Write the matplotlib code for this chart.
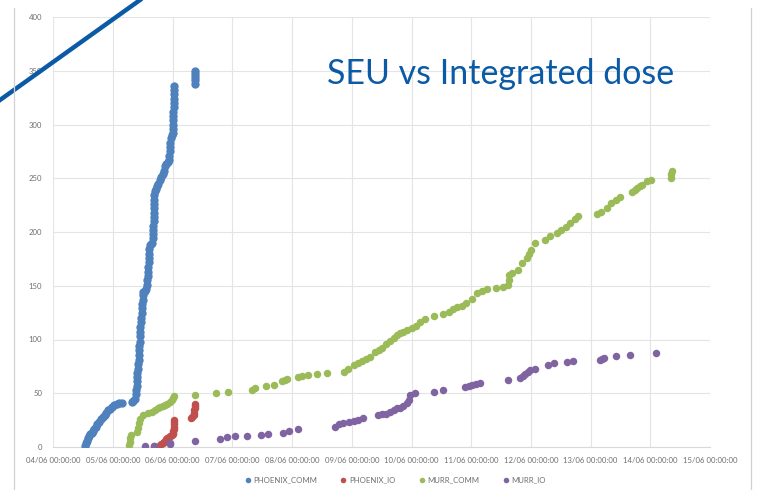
import matplotlib.pyplot as plt
from matplotlib.lines import Line2D

# time in days since 04/06 00:00:00, cumulative SEU count
phoenix_comm_day = [0.53, 0.54, 0.56, 0.58, 0.60, 0.62, 0.64, 0.66, 0.69, 0.72, 0.74, 0.77, 0.80, 0.83,
                    0.86, 0.89, 0.92, 0.95, 0.98, 1.02, 1.06, 1.10, 1.15,
                    1.31, 1.34, 1.37, 1.38, 1.39, 1.40, 1.40, 1.41, 1.41, 1.42, 1.42, 1.43, 1.43, 1.44,
                    1.44, 1.45, 1.45, 1.46, 1.46, 1.47, 1.47, 1.48, 1.48, 1.49, 1.50, 1.50, 1.51, 1.54,
                    1.56, 1.57, 1.57, 1.58, 1.58, 1.59, 1.60, 1.60, 1.61, 1.61, 1.62, 1.64, 1.66, 1.67,
                    1.67, 1.67, 1.67, 1.68, 1.68, 1.68, 1.68, 1.68, 1.69, 1.69, 1.70, 1.72, 1.74, 1.76,
                    1.79, 1.81, 1.83, 1.85, 1.87, 1.89, 1.92, 1.94, 1.94, 1.95, 1.95, 1.96, 1.97, 1.99,
                    2.01, 2.01, 2.01, 2.01, 2.01, 2.01, 2.02, 2.02, 2.02, 2.02, 2.02, 2.02,
                    2.37, 2.37, 2.37, 2.37, 2.37]
phoenix_comm_count = [1, 4, 6, 8, 10, 12, 13, 15, 17, 19, 21, 23, 26, 28,
                      30, 32, 34, 35, 37, 39, 40, 41, 41,
                      42, 43, 45, 49, 53, 57, 61, 65, 69, 73, 77, 81, 86, 90,
                      94, 98, 103, 107, 112, 116, 120, 125, 129, 133, 137, 141, 144, 145,
                      147, 151, 155, 159, 163, 167, 172, 176, 180, 184, 188, 189, 190, 194,
                      198, 202, 206, 210, 214, 218, 222, 226, 230, 234, 238, 240, 243, 245,
                      248, 251, 254, 257, 261, 263, 265, 267, 271, 275, 279, 283, 287, 290,
                      292, 296, 300, 304, 308, 312, 316, 320, 324, 328, 332, 336,
                      338, 341, 344, 347, 350]

phoenix_io_day = [1.68, 1.79, 1.81, 1.83, 1.85, 1.87, 1.89, 1.91, 1.93, 1.95, 1.98, 2.00, 2.01, 2.01,
                  2.02, 2.02, 2.02, 2.02, 2.02, 2.30, 2.32, 2.35, 2.36, 2.36, 2.37, 2.37, 2.37]
phoenix_io_count = [1, 2, 3, 4, 5, 6, 7, 8, 9, 10, 11, 12, 13, 15,
                    17, 19, 21, 23, 25, 27, 28, 30, 32, 34, 36, 38, 40]

murr_comm_day = [1.27, 1.28, 1.29, 1.30, 1.41, 1.42, 1.43, 1.45, 1.50, 1.59, 1.66, 1.70, 1.75, 1.79,
                 1.84, 1.87, 1.91, 1.95, 1.98, 2.00, 2.02, 2.37, 2.72, 2.93, 3.32, 3.38, 3.57, 3.70,
                 3.83, 3.88, 3.92, 4.10, 4.16, 4.27, 4.42, 4.59,
                 4.87, 4.94, 5.03, 5.10, 5.17, 5.24, 5.30, 5.39, 5.45, 5.50, 5.58, 5.64, 5.70,
                 5.75, 5.80, 5.86, 5.93, 6.00, 6.07, 6.14, 6.23, 6.37, 6.53, 6.62, 6.70, 6.77,
                 6.84, 6.92, 7.01, 7.09, 7.18, 7.26, 7.42, 7.54, 7.62, 7.63, 7.64, 7.68, 7.79,
                 7.85, 7.93, 7.97, 8.01, 8.07, 8.24, 8.32, 8.43, 8.50, 8.58, 8.66, 8.74, 8.79,
                 9.11, 9.18, 9.27, 9.35, 9.42, 9.49, 9.69, 9.74, 9.77, 9.82, 9.86, 9.94, 10.02,
                 10.34, 10.35, 10.36]
murr_comm_count = [2, 5, 8, 11, 14, 18, 22, 26, 30, 32, 33, 34, 36, 37,
                   38, 39, 40, 42, 44, 46, 47, 48, 50, 51, 53, 55, 57, 58,
                   61, 62, 63, 65, 66, 67, 68, 69,
                   70, 73, 76, 78, 80, 82, 84, 88, 90, 92, 96, 99, 101,
                   104, 106, 107, 109, 111, 113, 116, 119, 122, 124, 126, 128, 130,
                   131, 134, 138, 143, 145, 147, 148, 149, 151, 155, 160, 162, 165,
                   171, 176, 180, 183, 190, 193, 196, 199, 202, 205, 208, 212, 215,
                   217, 219, 222, 227, 230, 233, 237, 239, 241, 243, 244, 247, 248,
                   250, 254, 257]

murr_io_day = [1.54, 1.68, 1.95, 1.96, 2.37, 2.79, 2.91, 3.04, 3.24, 3.48, 3.59, 3.84, 3.95, 4.10,
               4.72, 4.79, 4.86, 4.95, 5.03, 5.10, 5.18, 5.44, 5.51, 5.58, 5.64, 5.70, 5.75, 5.81,
               5.86, 5.92, 5.95, 5.97, 6.06, 6.37, 6.53, 6.90, 6.96, 7.01, 7.08, 7.14, 7.62,
               7.82, 7.86, 7.90, 7.95, 7.99, 8.07, 8.29, 8.38, 8.60, 8.71,
               9.16, 9.19, 9.22, 9.43, 9.66, 10.10]
murr_io_count = [1, 1, 3, 4, 6, 7, 9, 10, 10, 11, 12, 13, 15, 17,
                 19, 21, 22, 23, 24, 25, 27, 30, 31, 31, 33, 34, 36, 36,
                 38, 41, 44, 48, 50, 51, 53, 56, 57, 58, 59, 60, 62,
                 64, 66, 68, 70, 72, 73, 76, 78, 79, 80,
                 81, 82, 83, 85, 86, 87]

tick_labels = ["04/06 00:00:00", "05/06 00:00:00", "06/06 00:00:00", "07/06 00:00:00",
               "08/06 00:00:00", "09/06 00:00:00", "10/06 00:00:00", "11/06 00:00:00",
               "12/06 00:00:00", "13/06 00:00:00", "14/06 00:00:00", "15/06 00:00:00"]

series = [("PHOENIX_COMM", phoenix_comm_day, phoenix_comm_count, "#4F81BD"),
          ("PHOENIX_IO", phoenix_io_day, phoenix_io_count, "#C0504D"),
          ("MURR_COMM", murr_comm_day, murr_comm_count, "#9BBB59"),
          ("MURR_IO", murr_io_day, murr_io_count, "#8064A2")]

plt.rcParams['font.family'] = ['Lato', 'DejaVu Sans']

W, H = 760, 490
fig = plt.figure(figsize=(7.6, 4.9), dpi=100)
ax = fig.add_axes([53.3 / W, 1 - 447 / H, (710 - 53.3) / W, (447 - 17) / H])

for name, d, c, col in series:
    size = 6.0 if name == "PHOENIX_COMM" else 5.4
    ax.plot(d, c, linestyle='none', marker='o', markersize=size, markeredgewidth=0,
            color=col, label=name, zorder=3)

ax.set_xlim(0, 11)
ax.set_ylim(0, 400)
ax.set_xticks(range(12))
ax.set_xticklabels(tick_labels)
ax.set_yticks(range(0, 401, 50))
ax.grid(True, color='#E4E4E4', linewidth=0.8, zorder=0)
for s in ['top', 'right', 'left']:
    ax.spines[s].set_visible(False)
ax.spines['bottom'].set_color('#D9D9D9')
ax.tick_params(length=0, labelsize=5.6, labelcolor='#6E6E6E')
ax.tick_params(axis='x', pad=7)
ax.tick_params(axis='y', pad=8)

handles = [Line2D([], [], linestyle='none', marker='o', markersize=4, markeredgewidth=0, color=col)
           for _, _, _, col in series]
fig.legend(handles, [s[0] for s in series], loc='center', bbox_to_anchor=(395 / W, 1 - 480 / H),
           ncol=4, frameon=False, fontsize=5.6, labelcolor='#6E6E6E', handlelength=0.8,
           handletextpad=0.3, columnspacing=3.0)

# slide decorations
fig.add_artist(Line2D([0, 140 / W], [1 - 100 / H, 1], color='#0B5AA5', linewidth=3.2))
fig.add_artist(Line2D([14 / W, 14 / W], [0, 1 - 8 / H], color='#D0D0D0', linewidth=0.9))
fig.add_artist(Line2D([751 / W, 751 / W], [0, 1 - 8 / H], color='#D0D0D0', linewidth=0.9))

fig.text(501 / W, 1 - 74 / H, "SEU vs Integrated dose", fontsize=24.5, color='#0B5AA5',
         ha='center', va='center')

fig.savefig("out.png", dpi=100)
